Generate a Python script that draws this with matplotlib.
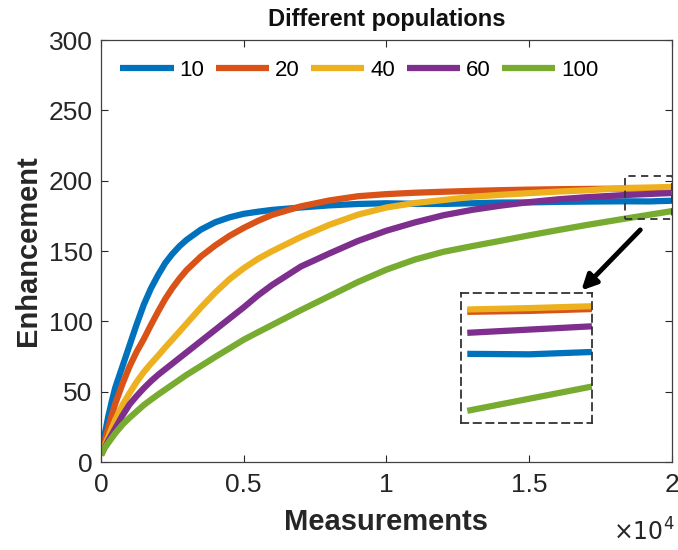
import matplotlib.pyplot as plt
from matplotlib.patches import Rectangle
from matplotlib.ticker import FuncFormatter

plt.rcParams['font.family'] = ['Liberation Sans', 'DejaVu Sans']

# Data
measurements = [0, 125, 250, 375, 500, 750, 1000, 1250, 1500, 1750, 2000, 2250, 2500, 2750,
                3000, 3500, 4000, 4500, 5000, 5500, 6000, 7000, 8000, 9000, 10000, 11000,
                12000, 13000, 14000, 15000, 16000, 17000, 18400, 19200, 20000]
pop_10 = [5, 19, 32, 43, 53, 68, 83, 98, 112, 123.5, 133, 141.5, 148, 153.5,
          158, 165.3, 170.5, 174, 176.5, 178, 179.3, 181, 182.5, 183.5, 184, 183.6,
          183.5, 184, 184.5, 184.6, 185, 185.2, 185.4, 185.3, 185.8]
pop_20 = [5, 15, 24, 33, 41.5, 55.5, 68, 78.5, 87.5, 97.5, 107, 116, 123.7, 130.5,
          136.5, 146.2, 154, 160.8, 166.5, 171.5, 175.8, 181.8, 186, 189, 190.5, 191.5,
          192.2, 192.8, 193.3, 193.7, 194, 194.2, 194.4, 194.6, 195]
pop_40 = [5, 11.5, 17.5, 24, 30, 40.5, 49, 57, 64, 70, 75.6, 81.5, 87.1, 92.8,
          98.5, 109.9, 120.5, 130, 137.8, 144.5, 150, 160, 168.7, 175.9, 181, 184.2,
          186.3, 188.6, 190, 191.2, 192.3, 193.2, 194.9, 195.2, 195.6]
pop_60 = [5, 10, 15, 19.5, 24, 33, 41, 47, 52.5, 57.5, 62, 66, 70, 74,
          78, 86, 94, 102, 110, 118.5, 126, 139, 148.3, 157.2, 164.5, 170.4,
          175.5, 179.3, 182.3, 184.8, 186.8, 188.3, 189.9, 190.6, 191.3]
pop_100 = [5, 10, 13.5, 17, 20.5, 26.5, 31.5, 36, 40.5, 44.3, 48, 51.5, 55, 58.5,
           62, 68.3, 74.7, 80.8, 87, 92.3, 97.5, 108, 118, 128, 136.8, 144,
           149.5, 153.5, 157.3, 161.2, 164.9, 168.5, 173.2, 175.8, 178.4]
labels = ['10', '20', '40', '60', '100']
series = [pop_10, pop_20, pop_40, pop_60, pop_100]
colors = ['#0072BD', '#D95319', '#EDB120', '#7E2F8E', '#77AC30']

# zoomed region shown in the inset
zoom_x = (18350, 20000)
zoom_y = (172.5, 203.5)
inset_xlim = (18320, 20000)
inset_ylim = (170.6, 198.4)

fig = plt.figure(figsize=(6.78, 5.5), dpi=100)
ax = fig.add_axes([0.149, 0.16, 0.842, 0.767])

for vals, lab, c in zip(series, labels, colors):
    ax.plot(measurements, vals, color=c, lw=4.5, label=lab, solid_capstyle='butt')

ax.set_xlim(0, 20000)
ax.set_ylim(0, 300)
ax.set_xticks([0, 5000, 10000, 15000, 20000])
ax.set_yticks(range(0, 301, 50))
ax.xaxis.set_major_formatter(FuncFormatter(lambda v, p: '%g' % (v / 1e4)))
ax.tick_params(direction='in', top=True, right=True, labelsize=19,
               colors='#262626', length=5, width=0.8)
ax.tick_params(axis='x', pad=8)
ax.tick_params(axis='y', pad=6)
for s in ax.spines.values():
    s.set_color('#404040')
    s.set_linewidth(0.9)

ax.set_xlabel('Measurements', fontsize=21, fontweight='bold', color='#262626', labelpad=8)
ax.set_ylabel('Enhancement', fontsize=21, fontweight='bold', color='#262626', labelpad=5)
ax.set_title('Different populations', fontsize=17, fontweight='bold', color='#111111', pad=10)
fig.text(0.995, 0.008, r'$\times10^4$', ha='right', va='bottom', fontsize=17, color='#262626')

leg = ax.legend(loc='center left', bbox_to_anchor=(0.018, 0.929), ncol=5, frameon=False,
                fontsize=16, handlelength=2.4, handletextpad=0.28, columnspacing=0.5,
                borderaxespad=0.0)

# dashed box around the zoom region
ax.add_patch(Rectangle((zoom_x[0], zoom_y[0]), zoom_x[1] - zoom_x[0], zoom_y[1] - zoom_y[0],
                       fill=False, ls=(0, (4, 3)), lw=1.3, ec='#333333', zorder=5))

# arrow pointing to the inset
ax.annotate('', xy=(0.838, 0.402), xytext=(0.948, 0.555), xycoords='axes fraction',
            arrowprops=dict(arrowstyle='-|>,head_length=0.9,head_width=0.45',
                            color='black', lw=3.5))

# inset
ins = fig.add_axes([0.680, 0.231, 0.193, 0.236])
for vals, c in zip(series, colors):
    xs = [m for m in measurements if m >= 18400]
    ys = vals[-len(xs):]
    ins.plot(xs, ys, color=c, lw=4.5, solid_capstyle='butt')
ins.set_xlim(*inset_xlim)
ins.set_ylim(*inset_ylim)
ins.set_xticks([])
ins.set_yticks([])
for s in ins.spines.values():
    s.set_linestyle((0, (4, 3)))
    s.set_color('#333333')
    s.set_linewidth(1.3)

fig.savefig('out.png', dpi=100)
